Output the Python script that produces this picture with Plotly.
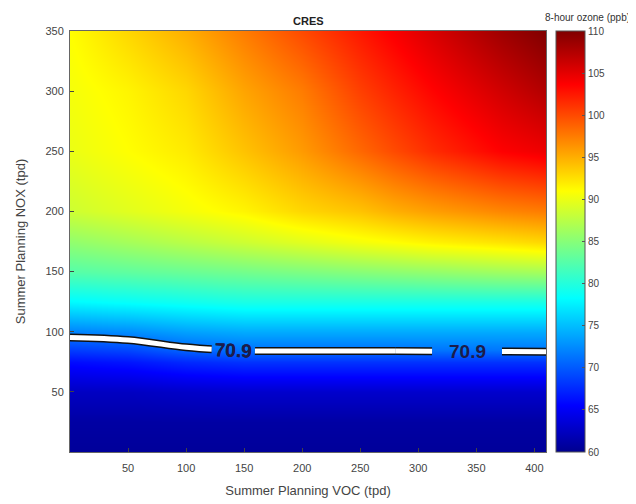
import plotly.graph_objects as go

# Summer planning VOC (x) and NOX (y), tpd
voc = [0, 50, 100, 150, 200, 250, 280, 312, 372, 410]
nox = [0, 25, 50, 75, 85, 100, 125, 150, 175, 200, 250, 300, 350]

# 8-hour ozone (ppb), one row per NOX level
ozone = [
    [60.5, 60.5, 60.5, 60.5, 60.5, 60.5, 60.5, 60.5, 60.5, 60.5],
    [61.0, 61.0, 61.0, 61.0, 61.0, 61.0, 61.0, 61.0, 61.0, 61.0],
    [62.5, 62.5, 62.8, 63.0, 63.0, 63.0, 63.0, 63.0, 63.0, 63.0],
    [66.0, 66.5, 67.5, 68.0, 68.0, 68.0, 68.0, 68.0, 68.0, 68.0],
    [68.5, 69.0, 70.5, 71.2, 71.2, 71.2, 71.2, 71.3, 71.4, 71.5],
    [72.0, 72.5, 73.5, 74.0, 74.0, 74.0, 74.0, 74.0, 74.0, 74.0],
    [78.0, 78.5, 79.0, 79.5, 79.5, 79.5, 79.5, 79.5, 79.5, 79.5],
    [82.5, 83.0, 83.5, 84.0, 84.5, 85.0, 85.3, 85.6, 86.2, 86.5],
    [85.5, 86.5, 87.5, 88.5, 89.5, 90.5, 91.0, 91.6, 92.4, 93.0],
    [88.5, 89.5, 90.5, 91.5, 93.0, 94.0, 95.0, 95.8, 97.0, 97.5],
    [90.0, 91.0, 92.0, 94.0, 96.0, 98.5, 100.0, 101.5, 103.7, 104.5],
    [90.5, 91.5, 93.0, 95.5, 97.5, 100.5, 102.0, 103.5, 106.0, 107.5],
    [91.0, 93.0, 95.0, 97.5, 100.0, 102.5, 104.0, 105.6, 108.5, 110.0],
]
target = 70.9
label_x = 342    # second contour label
label_y = 83.5

x_ticks = [50, 100, 150, 200, 250, 300, 350, 400]
y_ticks = [50, 100, 150, 200, 250, 300, 350]
cb_ticks = [60, 65, 70, 75, 80, 85, 90, 95, 100, 105, 110]

# MATLAB style jet
jet = [
    [0.0, "#00008F"],
    [0.11, "#0000FF"],
    [0.365, "#00FFFF"],
    [0.62, "#FFFF00"],
    [0.873, "#FF0000"],
    [1.0, "#800000"],
]

fig = go.Figure()

fig.add_trace(go.Heatmap(
    x=voc, y=nox, z=ozone,
    zmin=60, zmax=110, zsmooth="best",
    colorscale=jet,
    colorbar=dict(
        x=1.021, xanchor="left", xpad=0, y=0.5, yanchor="middle", ypad=0,
        len=1, lenmode="fraction", thickness=29,
        tickvals=cb_ticks, ticks="inside", ticklen=3, tickcolor="#555",
        tickfont=dict(family="Liberation Sans", size=10, color="#444"),
        outlinewidth=1, outlinecolor="#555",
    ),
    hoverinfo="skip",
))

# 70.9 ppb contour: left piece with plotly's own label, right part in two
# pieces around a hand placed label
label_font = dict(family="Liberation Sans", size=19, color="#1c1c4a", weight="bold")
pieces = [
    (0, voc.index(280), True),
    (voc.index(280), voc.index(312), False),
    (voc.index(372), len(voc) - 1, False),
]
for i0, i1, labelled in pieces:
    sub_x = voc[i0:i1 + 1]
    sub_z = [row[i0:i1 + 1] for row in ozone]
    for colour, width in (("#111", 8), ("white", 5)):
        fig.add_trace(go.Contour(
            x=sub_x, y=nox, z=sub_z,
            autocontour=False,
            contours=dict(start=target, end=target, size=1, coloring="lines",
                          showlabels=labelled, labelfont=label_font),
            colorscale=[[0, colour], [1, colour]],
            line=dict(width=width, smoothing=1),
            showscale=False, hoverinfo="skip",
        ))

fig.add_annotation(
    text=str(target), x=label_x, y=label_y, xanchor="center", yanchor="middle",
    showarrow=False, font=label_font,
)
fig.add_annotation(
    text="<b>CRES</b>", xref="paper", yref="paper",
    x=0.5, y=1.024, xanchor="center", yanchor="middle", showarrow=False,
    font=dict(family="Liberation Sans", size=11, color="#222"),
)
fig.add_annotation(
    text="8-hour ozone (ppb)", xref="paper", yref="paper",
    x=1.088, y=1.033, xanchor="center", yanchor="middle", showarrow=False,
    font=dict(family="Liberation Sans", size=10, color="#333"),
)

axis_font = dict(family="Liberation Sans", size=11, color="#444")
fig.update_layout(
    width=636, height=504,
    margin=dict(l=62, r=98, t=23, b=60, autoexpand=False),
    paper_bgcolor="white", plot_bgcolor="white",
    xaxis=dict(range=[0, 410], tickvals=x_ticks, ticks="inside", ticklen=4,
               showgrid=False, zeroline=False, showline=True, linecolor="#666",
               mirror=True, tickfont=axis_font, ticklabelstandoff=6,
               title=dict(text="Summer Planning VOC (tpd)", standoff=12,
                          font=dict(family="Liberation Sans", size=13, color="#444"))),
    yaxis=dict(range=[0, 350], tickvals=y_ticks, ticks="inside", ticklen=4,
               showgrid=False, zeroline=False, showline=True, linecolor="#666",
               mirror=True, tickfont=axis_font, ticklabelstandoff=3,
               title=dict(text="Summer Planning NOX (tpd)", standoff=16,
                          font=dict(family="Liberation Sans", size=13, color="#444"))),
)

fig.write_html("out.html")
